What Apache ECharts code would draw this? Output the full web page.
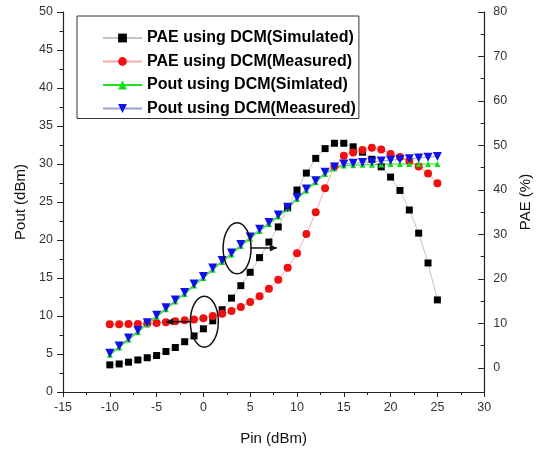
<!DOCTYPE html>
<html><head><meta charset="utf-8">
<script src="https://cdn.jsdelivr.net/npm/echarts@6/dist/echarts.min.js"></script>
<style>html,body{margin:0;padding:0;background:#fff}#c{width:541px;height:454px}</style>
</head><body><div id="c"></div>
<script>
const pin = [-10,-9,-8,-7,-6,-5,-4,-3,-2,-1,0,1,2,3,4,5,6,7,8,9,10,11,12,13,14,15,16,17,18,19,20,21,22,23,24,25];
const paeSim = [0.7,0.9,1.3,1.8,2.3,2.8,3.7,4.6,5.9,7.2,8.8,10.6,13.1,15.7,18.5,21.5,24.8,28.3,31.7,36.0,40.0,43.8,47.1,49.3,50.5,50.5,49.7,48.5,46.9,45.2,42.9,39.9,35.5,30.3,23.6,15.3];
const paeMeas = [9.8,9.8,9.9,9.9,10.0,10.1,10.3,10.5,10.7,10.9,11.2,11.7,12.2,12.8,13.7,14.8,16.1,17.8,19.8,22.5,25.8,30.1,35.0,40.4,45.3,47.7,48.4,49.0,49.5,49.1,48.1,47.4,46.5,45.3,43.7,41.5];
const poutSim = [4.9,5.85,6.9,7.9,8.9,9.9,10.9,11.9,12.9,14.0,15.0,16.1,17.1,18.1,19.2,20.2,21.2,22.1,23.1,24.1,25.4,26.5,27.6,28.7,29.4,29.8,29.85,29.9,29.9,29.95,30.0,30.0,30.0,30.0,30.0,30.0];
const poutMeas = [5.1,6.05,7.1,8.1,9.1,10.1,11.1,12.1,13.1,14.2,15.2,16.3,17.3,18.3,19.4,20.4,21.4,22.3,23.3,24.3,25.6,26.7,27.8,28.9,29.6,30.0,30.1,30.2,30.3,30.4,30.5,30.6,30.7,30.8,30.9,31.0];
const names = ['PAE using DCM(Simulated)','PAE using DCM(Measured)','Pout using DCM(Simlated)','Pout using DCM(Measured)'];
const rightMajor = [0,10,20,30,40,50,60,70,80];
const rightMinor = [5,15,25,35,45,55,65,75];
// annotation anchors (data coords on Pin / Pout axes)
const ellipses = [[3.6,18.9],[0.1,9.25]];
const arrows = [[[5.0,18.95],[7.85,18.95]],[[-1.3,9.25],[-4.0,9.25]]];

const FONT = "'Liberation Sans', Arial, sans-serif";
const AX = '#222';
const chart = echarts.init(document.getElementById('c'), null, {renderer:'canvas'});
const pair = a => pin.map((x,i)=>[x,a[i]]);
const option = {
  backgroundColor:'#fff',
  animation:false,
  textStyle:{fontFamily:FONT},
  grid:{left:63,right:54,top:12,bottom:62,containLabel:false},
  legend:{
    orient:'vertical', left:77, top:16,
    padding:[13,3,1,25],
    borderColor:'#333', borderWidth:1,
    itemWidth:39, itemHeight:11, itemGap:5.5,
    textStyle:{fontFamily:FONT,fontSize:16,fontWeight:'bold',color:'#000',lineHeight:18},
    data:names
  },
  xAxis:{
    type:'value', min:-15, max:30, interval:5,
    name:'Pin (dBm)', nameLocation:'middle', nameGap:39,
    nameTextStyle:{fontFamily:FONT,fontSize:15,color:'#111'},
    axisLine:{onZero:false,lineStyle:{color:AX,width:1.2}},
    axisTick:{inside:false,length:5,lineStyle:{color:AX}},
    minorTick:{show:true,splitNumber:2,length:3,lineStyle:{color:AX}},
    axisLabel:{fontFamily:FONT,fontSize:12.5,color:'#333',margin:9},
    splitLine:{show:false}
  },
  yAxis:[{
    type:'value', min:0, max:50, interval:5, position:'left',
    name:'Pout (dBm)', nameLocation:'middle', nameGap:28, nameRotate:90,
    nameTextStyle:{fontFamily:FONT,fontSize:15,color:'#111'},
    axisLine:{show:true,onZero:false,lineStyle:{color:AX,width:1.2}},
    axisTick:{show:true,inside:false,length:6,lineStyle:{color:AX}},
    minorTick:{show:true,splitNumber:2,length:3.5,lineStyle:{color:AX}},
    axisLabel:{fontFamily:FONT,fontSize:12.5,color:'#333',margin:10},
    splitLine:{show:false}
  },{
    type:'value', min:-5.4, max:80, position:'right',
    name:'PAE (%)', nameLocation:'middle', nameGap:25, nameRotate:90,
    nameTextStyle:{fontFamily:FONT,fontSize:15,color:'#111'},
    axisLine:{show:true,onZero:false,lineStyle:{color:AX,width:1.2}},
    axisTick:{show:true,inside:true,length:6,customValues:rightMajor,lineStyle:{color:AX}},
    axisLabel:{fontFamily:FONT,fontSize:12.5,color:'#333',margin:9,customValues:rightMajor},
    splitLine:{show:false}
  },{
    type:'value', min:-5.4, max:80, position:'right',
    axisLine:{show:false,onZero:false},
    axisTick:{show:true,inside:true,length:3.5,customValues:rightMinor,lineStyle:{color:AX}},
    axisLabel:{show:false},
    splitLine:{show:false}
  }],
  series:[
    {name:names[0],type:'line',yAxisIndex:1,data:pair(paeSim),symbol:'rect',symbolSize:7,
     itemStyle:{color:'#000'},lineStyle:{color:'#c4c4c4',width:1}},
    {name:names[1],type:'line',yAxisIndex:1,data:pair(paeMeas),symbol:'circle',symbolSize:8,
     itemStyle:{color:'#f01010'},lineStyle:{color:'#f7a8a8',width:1}},
    {name:names[2],type:'line',yAxisIndex:0,data:pair(poutSim),symbol:'triangle',symbolSize:6,
     itemStyle:{color:'#10e010'},lineStyle:{color:'#20e020',width:1.2}},
    {name:names[3],type:'line',yAxisIndex:0,data:pair(poutMeas),symbol:'triangle',symbolRotate:180,symbolSize:9,
     itemStyle:{color:'#1010e8'},lineStyle:{color:'#9aa0d0',width:1}}
  ]
};
chart.setOption(option);
const P = p => chart.convertToPixel({xAxisIndex:0,yAxisIndex:0}, p);
const g = [];
ellipses.forEach(e=>{
  const c = P(e);
  g.push({type:'ellipse',shape:{cx:c[0],cy:c[1],rx:14,ry:25.5},style:{fill:null,stroke:'#111',lineWidth:1.5},z:100});
});
arrows.forEach(a=>{
  const s = P(a[0]), t = P(a[1]);
  g.push({type:'line',shape:{x1:s[0],y1:s[1],x2:t[0],y2:t[1]},style:{stroke:'#111',lineWidth:1.5},z:100});
  const dir = Math.sign(t[0]-s[0]);
  g.push({type:'polygon',shape:{points:[[t[0],t[1]],[t[0]-dir*7,t[1]-3.5],[t[0]-dir*7,t[1]+3.5]]},style:{fill:'#111'},z:100});
});
chart.setOption({graphic:g});
</script></body></html>
